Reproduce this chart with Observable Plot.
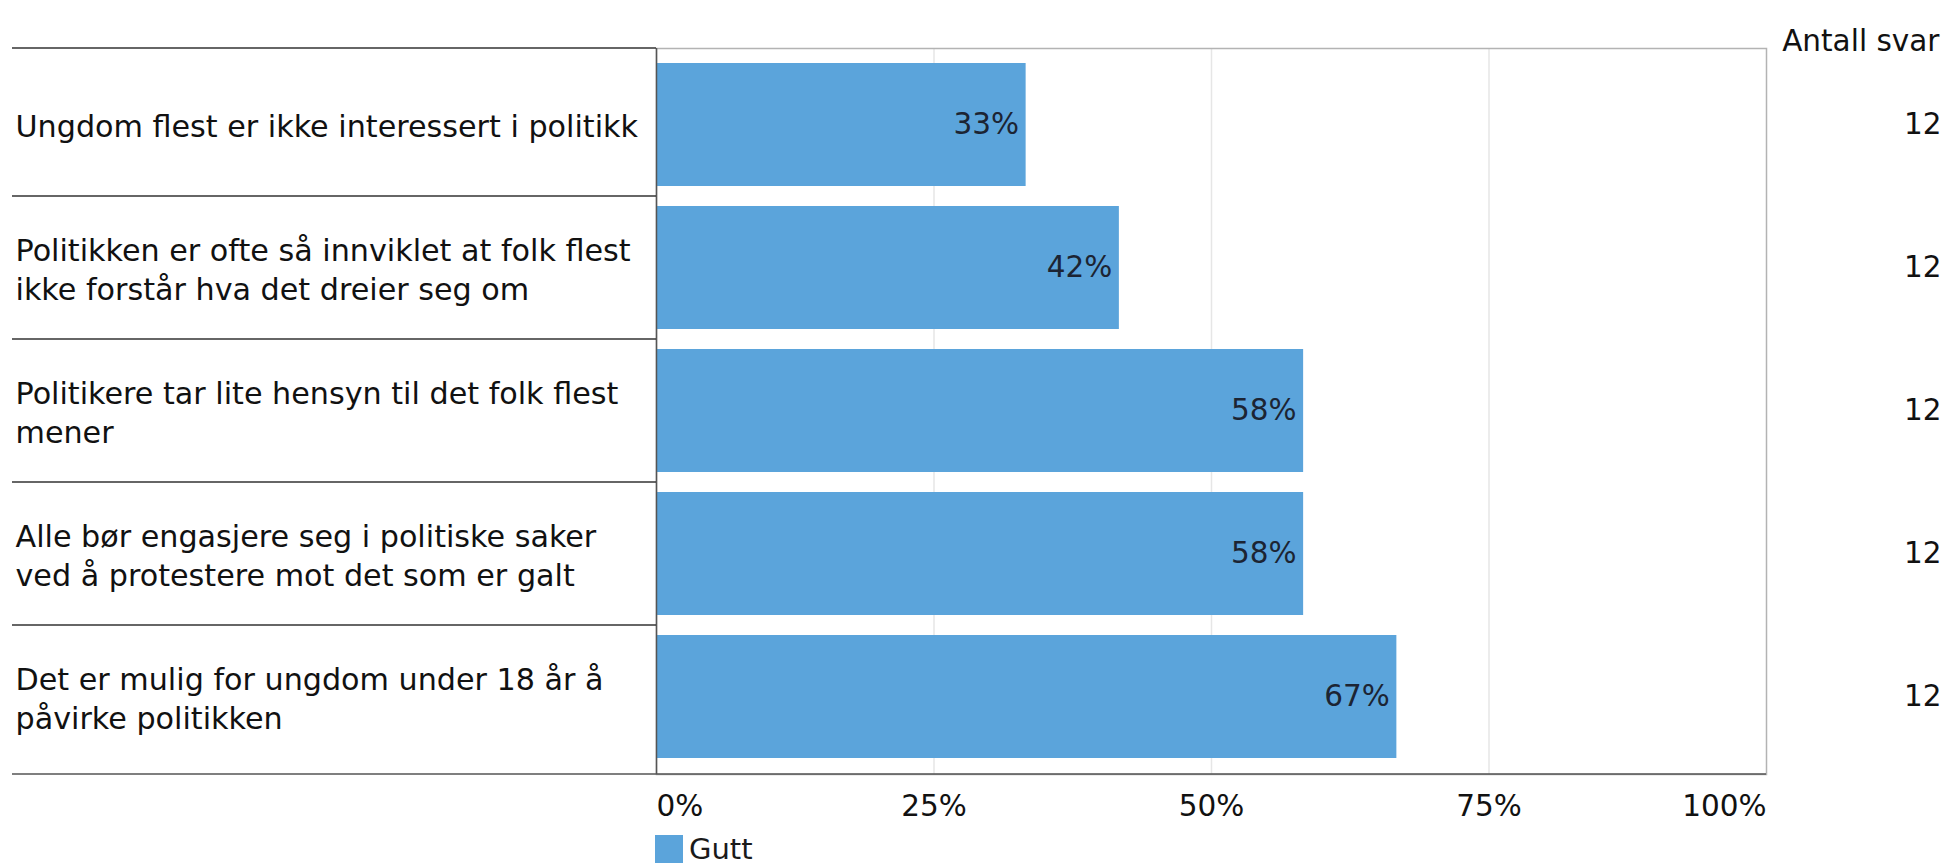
<!DOCTYPE html>
<html>
<head>
<meta charset="utf-8">
<script src="https://cdn.jsdelivr.net/npm/d3@7"></script>
<script src="https://cdn.jsdelivr.net/npm/@observablehq/plot@0.6"></script>
<style>
  body { margin: 0; background: #fff; font-family: "DejaVu Sans", Verdana, sans-serif; }
  #legend { display: flex; align-items: center; margin-left: 655px; margin-top: 5px; height: 28px; line-height: 28px; font-size: 29px; color: #1a1a1a; }
  #legend .sw { width: 28px; height: 28px; background: #5ba4db; margin-right: 6px; display: inline-block; }
</style>
</head>
<body>
<div id="chart"></div>
<div id="legend"><span class="sw"></span><span id="legend-label"></span></div>
<script>
// ---- data ----
const categories = [
  "Ungdom flest er ikke interessert i politikk",
  "Politikken er ofte så innviklet at folk flest\nikke forstår hva det dreier seg om",
  "Politikere tar lite hensyn til det folk flest\nmener",
  "Alle bør engasjere seg i politiske saker\nved å protestere mot det som er galt",
  "Det er mulig for ungdom under 18 år å\npåvirke politikken"
];
const values = [33.3, 41.7, 58.3, 58.3, 66.7];
const counts = [12, 12, 12, 12, 12];
const xTicks = [0, 25, 50, 75, 100];
const seriesName = "Gutt";
const countHeader = "Antall svar";

const barColor = "#5ba4db";
const data = categories.map((c, i) => ({category: c, value: values[i], n: counts[i]}));

const W = 1951, H = 830;
const plotTop = 48, plotBottom = 774, plotLeft = 656, plotRight = 1766;

const chart = Plot.plot({
  width: W,
  height: H,
  marginLeft: plotLeft,
  marginRight: W - plotRight,
  marginTop: plotTop,
  marginBottom: H - plotBottom,
  x: {domain: [0, 100], axis: null},
  y: {domain: categories, axis: null, paddingInner: 0.138, paddingOuter: 0.103},
  style: {fontFamily: "'DejaVu Sans', Verdana, sans-serif", fontSize: "29px", color: "#1a1a1a", background: "white"},
  marks: [
    Plot.ruleX(xTicks.slice(1, -1), {stroke: "#e6e6e6", strokeWidth: 1.5}),
    Plot.frame({stroke: "#b3b3b3", strokeWidth: 1.5}),
    Plot.barX(data, {y: "category", x: "value", fill: barColor}),
    Plot.ruleX([0], {stroke: "#555", strokeWidth: 1.5}),
    Plot.text(data, {y: "category", x: "value", text: d => Math.round(d.value) + "%", textAnchor: "end", dx: -7, fill: "#1c2433", fontSize: 29.5}),
    Plot.text(data, {y: "category", text: "category", frameAnchor: "left", dx: -(plotLeft - 15), textAnchor: "start", fontSize: 30.2, lineHeight: 1.28, fill: "#111"}),
    Plot.text(data, {y: "category", text: "n", frameAnchor: "right", dx: 175, textAnchor: "end", fill: "#111", fontSize: 29.5}),
    Plot.text([countHeader], {frameAnchor: "top-right", dx: 173, dy: -18, textAnchor: "end", fill: "#111", fontSize: 29.5}),
    Plot.text(xTicks.slice(0, 1), {x: d => d, text: d => d + "%", frameAnchor: "bottom", lineAnchor: "top", dy: 21, textAnchor: "start", fill: "#111", fontSize: 29.5}),
    Plot.text(xTicks.slice(1, -1), {x: d => d, text: d => d + "%", frameAnchor: "bottom", lineAnchor: "top", dy: 21, textAnchor: "middle", fill: "#111", fontSize: 29.5}),
    Plot.text(xTicks.slice(-1), {x: d => d, text: d => d + "%", frameAnchor: "bottom", lineAnchor: "top", dy: 21, textAnchor: "end", fill: "#111", fontSize: 29.5})
  ]
});

// row separators in the label area, derived from the chart's own y scale
const ys = chart.scale("y");
const band = d3.scaleBand()
  .domain(ys.domain)
  .range(ys.range)
  .paddingInner(ys.paddingInner)
  .paddingOuter(ys.paddingOuter)
  .align(ys.align ?? 0.5)
  .round(!!ys.round);
const centers = ys.domain.map(c => band(c) + band.bandwidth() / 2);
const r0 = Math.min(...ys.range), r1 = Math.max(...ys.range);
const seps = [r0];
for (let i = 0; i < centers.length - 1; i++) seps.push((centers[i] + centers[i + 1]) / 2);
const svg = d3.select(chart);
const g = svg.append("g");
g.selectAll("line.sep").data(seps).join("line")
  .attr("x1", 12).attr("x2", plotLeft)
  .attr("y1", d => d).attr("y2", d => d)
  .attr("stroke", "#333").attr("stroke-width", 1.5);
g.append("line")
  .attr("x1", 12).attr("x2", plotRight)
  .attr("y1", r1).attr("y2", r1)
  .attr("stroke", "#555").attr("stroke-width", 1.5);

document.getElementById("chart").appendChild(chart);
document.getElementById("legend-label").textContent = seriesName;
</script>
</body>
</html>
